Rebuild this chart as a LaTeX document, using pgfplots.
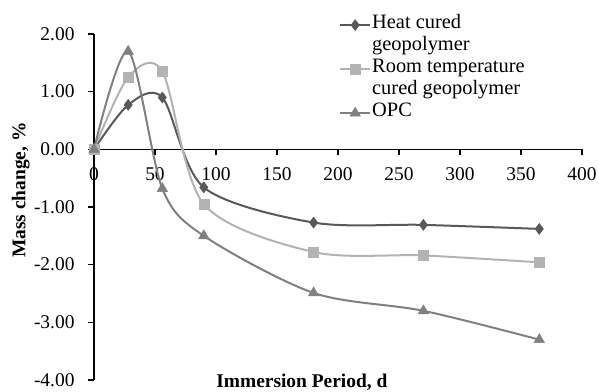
\documentclass[border=0pt]{standalone}
\usepackage{fontspec}
\setmainfont{Liberation Serif}
\usepackage{pgfplots}
\pgfplotsset{compat=1.18}
\definecolor{heat}{HTML}{595959}
\definecolor{room}{HTML}{B3B3B3}
\definecolor{opc}{HTML}{808080}
\newcommand{\f}{\fontsize{19.5}{22}\selectfont}
\newcommand{\fl}{\fontsize{20.5}{22}\selectfont}
\begin{document}
\begin{tikzpicture}
\begin{axis}[name=ax,
  scale only axis, width=488bp, height=346bp,
  xmin=0, xmax=400, ymin=-4, ymax=2,
  axis x line=middle, axis y line=left,
  axis line style={line width=1.6bp, -},
  hide obscured x ticks=false, hide obscured y ticks=false,
  xtick={0,50,...,400}, ytick={-4,-3,...,2},
  tick align=outside, major tick length=6bp,
  tick style={line width=1.3bp, black},
  xticklabel style={font=\f, yshift=-9bp},
  yticklabel style={font=\f, xshift=-10bp, /pgf/number format/.cd, fixed, fixed zerofill, precision=2},
  /pgf/number format/assume math mode=true,
  xlabel={Immersion Period, d},
  ylabel={Mass change, \%},
  xlabel style={font=\f\bfseries, at={(axis description cs:0.426,-0.023)}, anchor=base},
  ylabel style={font=\f\bfseries, at={(axis description cs:-0.15,0.549)}, anchor=center, rotate=0},
  clip=false,
  legend style={draw=none, fill=none, font=\fl, at={(rel axis cs:0.502,1.058)}, anchor=north west,
    inner sep=0pt, row sep=0pt, column sep=1bp,
    nodes={inner sep=0pt, text height=14bp, text depth=8bp}},
  legend cell align=left,
  legend image code/.code={\draw[mark repeat=2,mark phase=2] plot coordinates {(0bp,0bp)(15bp,0bp)(30bp,0bp)};},
  every axis plot/.append style={smooth, line width=2bp},
]
\addplot[heat, mark=diamond*, mark size=5.5bp, mark options={solid, fill=heat, draw=heat, line width=0.5bp}] coordinates {
(0,0) (28,0.77) (56,0.90) (90,-0.66) (180,-1.27) (270,-1.31) (365,-1.38)};
\addlegendentry{Heat cured}
\addlegendimage{empty legend}
\addlegendentry{geopolymer}
\addplot[room, mark=square*, mark size=5bp, mark options={solid, fill=room, draw=room, line width=0.5bp}] coordinates {
(0,0) (28,1.25) (56,1.35) (90,-0.95) (180,-1.78) (270,-1.84) (365,-1.96)};
\addlegendentry{Room temperature}
\addlegendimage{empty legend}
\addlegendentry{cured geopolymer}
\addplot[opc, mark=triangle*, mark size=6bp, mark options={solid, fill=opc, draw=opc, line width=0.5bp}] coordinates {
(0,0) (28,1.70) (56,-0.68) (90,-1.50) (180,-2.49) (270,-2.80) (365,-3.30)};
\addlegendentry{OPC}
\end{axis}
\pgfresetboundingbox
\path[use as bounding box] ([shift={(-94bp,-12bp)}]ax.south west) rectangle ([shift={(17bp,34bp)}]ax.north east);
\end{tikzpicture}
\end{document}
